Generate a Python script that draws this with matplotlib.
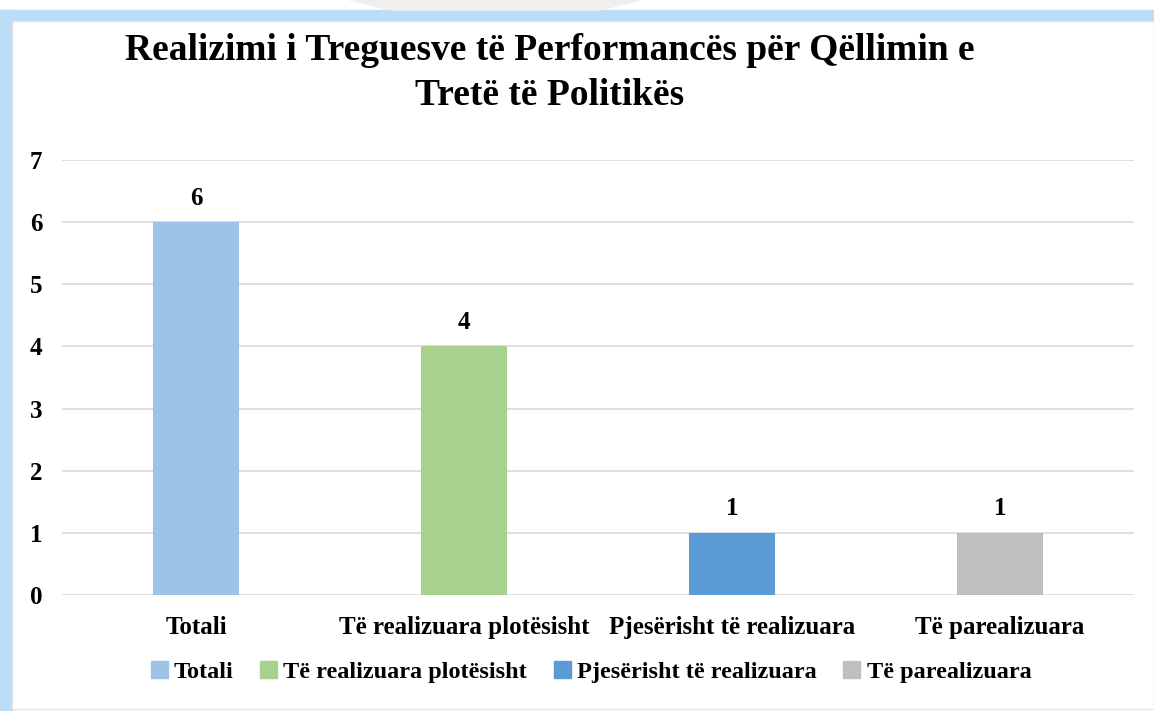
import matplotlib.pyplot as plt
from matplotlib.patches import Rectangle, Polygon

categories = ["Totali", "Të realizuara plotësisht", "Pjesërisht të realizuara", "Të parealizuara"]
values = [6, 4, 1, 1]
colors = ["#9DC3E6", "#A9D18E", "#5B9BD5", "#BFBFBF"]
yticks = [0, 1, 2, 3, 4, 5, 6, 7]

plt.rcParams['font.family'] = ['Liberation Serif', 'DejaVu Serif']
plt.rcParams['font.weight'] = 'bold'

fig = plt.figure(figsize=(11.54, 7.11), dpi=100)
W, H = 1154, 711

# frame decoration (light blue border left/top)
fig.patches.append(Rectangle((0, 0), 12 / W, 1 - 10 / H, transform=fig.transFigure,
                             color="#BBDDF8", zorder=0))
fig.patches.append(Rectangle((0, 1 - 21 / H), 1, 11 / H, transform=fig.transFigure,
                             color="#BBDDF8", zorder=0))
fig.patches.append(Polygon([(390 / W, 1 - 10 / H), (600 / W, 1 - 10 / H), (640 / W, 1), (350 / W, 1)],
                           closed=True, transform=fig.transFigure, color="#EFEFEF", zorder=0))
fig.patches.append(Rectangle((12 / W, 2 / H), 1 - 12 / W, 1 - 23 / H, transform=fig.transFigure,
                             facecolor="white", edgecolor="#E4E4E4", lw=1, zorder=0))

ax = fig.add_axes([62 / W, 1 - 595 / H, (1134 - 62) / W, (595 - 160) / H])
ax.set_zorder(2)
ax.set_facecolor("none")
x = range(len(categories))
bars = ax.bar(x, values, width=0.32, color=colors, zorder=3)
for b, v in zip(bars, values):
    ax.text(b.get_x() + b.get_width() / 2, v + 0.2, str(v), ha="center", va="bottom",
            fontsize=18, fontweight="bold")

ax.set_ylim(0, 7)
ax.set_xlim(-0.5, len(categories) - 0.5)
ax.set_yticks(yticks)
ax.set_xticks(list(x))
ax.set_xticklabels(categories)
ax.tick_params(axis="both", length=0, labelsize=18)
ax.tick_params(axis="y", pad=14)
ax.tick_params(axis="x", pad=15)
ax.yaxis.grid(True, color="#D9D9D9", lw=1.2, zorder=0)
ax.set_axisbelow(True)
for s in ax.spines.values():
    s.set_visible(False)

fig.text(550 / W, 1 - 73 / H, "Realizimi i Treguesve të Performancës për Qëllimin e\nTretë të Politikës",
         ha="center", va="center", fontsize=27, fontweight="bold", linespacing=1.4)

handles = [Rectangle((0, 0), 1, 1, color=c) for c in colors]
fig.legend(handles, categories, loc="center", bbox_to_anchor=(591 / W, 1 - 672 / H),
           ncol=4, frameon=False, fontsize=17.5, handlelength=0.7, handleheight=0.7,
           handletextpad=0.25, columnspacing=1.1)

fig.savefig("out.png", dpi=100)
